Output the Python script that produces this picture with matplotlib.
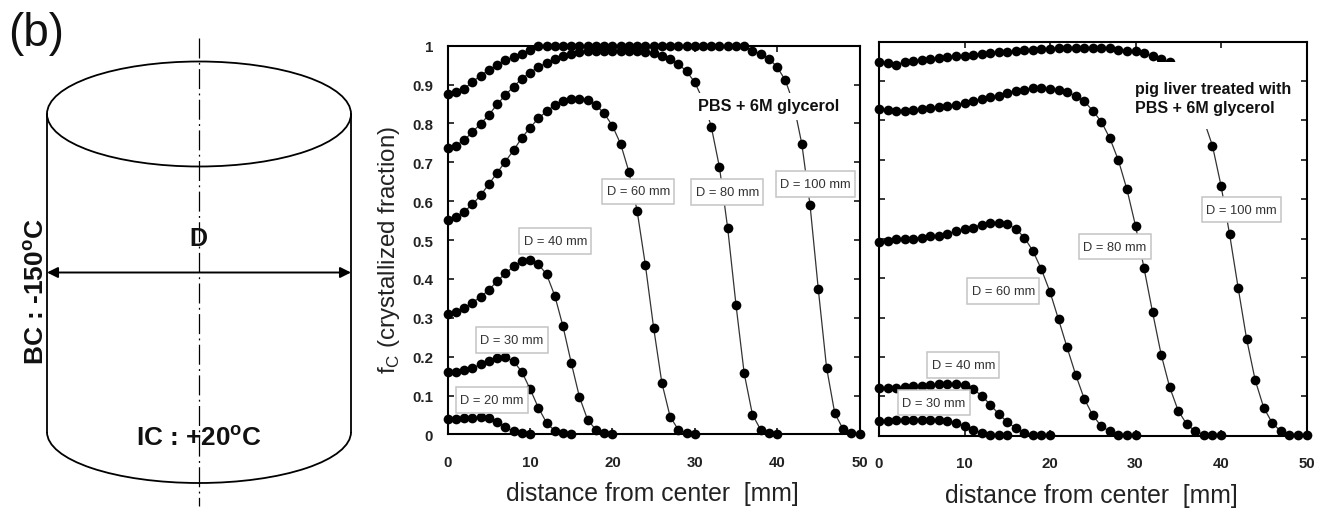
import matplotlib
matplotlib.use("Agg")
import matplotlib.pyplot as plt
from matplotlib.patches import Arc, Ellipse, Rectangle

plt.rcParams['font.family'] = ['Liberation Sans', 'DejaVu Sans']
plt.rcParams['mathtext.fontset'] = 'custom'
plt.rcParams['mathtext.rm'] = 'Liberation Sans'
plt.rcParams['mathtext.bf'] = 'Liberation Sans:bold'

# left panel, PBS + 6M glycerol (one value per mm from x = 0)
pbs_20 = [.040, .040, .042, .042, .044, .042, .033, .018, .008, .003, 0]
pbs_30 = [.160, .160, .166, .171, .180, .188, .196, .198, .188, .161, .117, .069, .030, .009, .003, 0]
pbs_40 = [.311, .316, .325, .339, .354, .372, .394, .414, .432, .446, .449, .438, .412, .357, .278,
          .184, .096, .037, .012, .003, 0]
pbs_60 = [.552, .560, .573, .592, .615, .644, .673, .702, .731, .763, .789, .813, .831, .847, .858,
          .863, .863, .861, .847, .826, .794, .747, .676, .575, .436, .275, .133, .046, .012, .003, 0]
pbs_80 = [.737, .743, .757, .778, .799, .822, .849, .873, .895, .915, .931, .945, .956, .966, .973,
          .978, .984, .987, .987, .987, .987, .987, .987, .986, .985, .981, .973, .965, .953, .934,
          .906, .860, .792, .687, .530, .334, .157, .051, .012, .003, 0]
pbs_100 = [.876, .880, .889, .907, .923, .938, .950, .963, .970, .978, .989, 1, 1, 1, 1, 1, 1, 1, 1,
           1, 1, 1, 1, 1, 1, 1, 1, 1, 1, 1, 1, 1, 1, 1, 1, 1, 1, .987, .979, .967, .945, .911, .850,
           .747, .589, .373, .172, .054, .014, .003, 0]

# right panel, pig liver
pig_30 = [.038, .038, .040, .040, .040, .041, .041, .041, .037, .032, .024, .014, .008, .003, .001, .001]
pig_40 = [.121, .121, .121, .124, .126, .127, .128, .131, .131, .131, .129, .118, .102, .079, .055,
          .035, .019, .008, .003, .001, .001]
pig_60 = [.492, .495, .498, .499, .500, .503, .506, .508, .513, .519, .524, .528, .536, .539, .539,
          .537, .525, .503, .469, .422, .365, .295, .224, .155, .094, .052, .024, .011, .003, .003, .001]
pig_80 = [.828, .827, .823, .823, .826, .828, .831, .833, .837, .839, .844, .849, .855, .860, .863,
          .871, .876, .878, .883, .883, .880, .877, .873, .862, .849, .825, .797, .755, .699, .625,
          .533, .425, .313, .206, .123, .063, .029, .011, .003, .003, .001]
pig_100 = [.948, .945, .942, .948, .951, .953, .956, .959, .961, .964, .964, .967, .970, .971, .974,
           .975, .976, .980, .980, .981, .981, .984, .984, .984, .984, .984, .984, .984, .980, .977,
           .977, .971, .963, .955, .948, .935, .910, .870, .800, .736, .635, .512, .376, .245, .141,
           .071, .032, .011, .003, .003, .001]

y_ticks = [0, .1, .2, .3, .4, .5, .6, .7, .8, .9, 1]
y_tick_labels = ['0', '0.1', '0.2', '0.3', '0.4', '0.5', '0.6', '0.7', '0.8', '0.9', '1']
x_ticks = [0, 10, 20, 30, 40, 50]

W, H = 1329, 510


def px_axes(left, right, top, bottom):
    return fig.add_axes([left / W, 1 - bottom / H, (right - left) / W, (bottom - top) / H])


def curve(ax, vals):
    xs = list(range(len(vals)))
    ax.plot(xs, vals, color='#333333', lw=0.9, marker='o', ms=7, mfc='black', mec='black',
            mew=0, clip_on=False, zorder=3)


def label(ax, x, y, s, wpx=72):
    # box size is given in pixels, turned into data units of this panel
    pos = ax.get_position()
    dx = wpx / (pos.width * W) * 50
    dy = 25.5 / (pos.height * H)
    ax.add_patch(Rectangle((x - dx / 2, y - dy / 2), dx, dy, fc='white', ec='#c4c4c4', lw=1.1, zorder=5))
    ax.text(x, y, s, ha='center', va='center', fontsize=9.3, color='#333333', zorder=6)


def style(ax, xlab_x, xlab_y):
    ax.set_xlim(0, 50)
    ax.set_ylim(0, 1)
    ax.set_xticks(x_ticks)
    ax.set_yticks(y_ticks)
    ax.tick_params(direction='in', top=True, right=True, length=4, width=1.1)
    ax.tick_params(axis='x', pad=14.5)
    ax.tick_params(axis='y', pad=10.5)
    ax.set_xticklabels([str(t) for t in x_ticks], fontweight='bold', fontsize=10.8, color='#222222')
    for s in ax.spines.values():
        s.set_linewidth(1.5)
    ax.set_xlabel('distance from center  [mm]', fontsize=17.8, va='center', color='#222222')
    ax.xaxis.set_label_coords(xlab_x, xlab_y)


fig = plt.figure(figsize=(W / 100, H / 100), dpi=100)

# cylinder sketch, drawn in pixel coordinates
bg = fig.add_axes([0, 0, 1, 1])
bg.set_xlim(0, W)
bg.set_ylim(H, 0)
bg.axis('off')
bg.add_patch(Ellipse((199, 115), 304, 105, fc='none', ec='black', lw=1.3))
bg.add_patch(Arc((199, 433), 304, 102, theta1=0, theta2=180, ec='black', lw=1.3))
bg.plot([47, 47], [115, 433], color='black', lw=1.3)
bg.plot([351, 351], [115, 433], color='black', lw=1.3)
bg.plot([199, 199], [39, 507], color='black', lw=0.9, dashes=(16, 3.5, 1.5, 3.5))
bg.annotate('', xy=(47, 273.5), xytext=(351, 273.5),
            arrowprops=dict(arrowstyle='<|-|>', color='black', lw=1.4, shrinkA=0, shrinkB=0, mutation_scale=16))
bg.text(8, 34, '(b)', fontsize=33, ha='left', va='center', color='#111111')
bg.text(198, 239, 'D', fontsize=18, fontweight='bold', ha='center', va='center', color='#111111')
bg.text(199, 438, r'IC : +20$^{\mathbf{o}}$C', fontsize=18.8, fontweight='bold', ha='center', va='center',
        color='#111111')
bg.text(36, 291.5, r'BC : -150$^{\mathbf{o}}$C', fontsize=19, fontweight='bold', ha='center', va='center',
        rotation=90, color='#111111')

# left panel
ax1 = px_axes(447.7, 859.5, 46.7, 435.4)
for vals in [pbs_20, pbs_30, pbs_40, pbs_60, pbs_80, pbs_100]:
    curve(ax1, vals)
style(ax1, .498, -.151)
ax1.set_yticklabels(y_tick_labels, fontweight='bold', fontsize=10.8, color='#222222')
ax1.set_ylabel(r'f$_{\mathregular{C}}$ (crystallized fraction)', fontsize=17.4, va='center', color='#222222')
ax1.yaxis.set_label_coords(-.143, .478)
label(ax1, 5.4, .088, 'D = 20 mm')
label(ax1, 7.8, .243, 'D = 30 mm')
label(ax1, 13.06, .497, 'D = 40 mm')
label(ax1, 23.15, .625, 'D = 60 mm')
label(ax1, 33.93, .623, 'D = 80 mm')
label(ax1, 44.67, .644, 'D = 100 mm', wpx=79)
ax1.add_patch(Rectangle((29.9, .81), 18.2, .068, fc='white', ec='none', zorder=5))
ax1.text(38.93, .845, 'PBS + 6M glycerol', fontsize=11.7, fontweight='bold', color='#111111',
         ha='center', va='center', zorder=6)

# right panel
ax2 = px_axes(879, 1306.5, 42.7, 436.7)
for vals in [pig_30, pig_40, pig_60, pig_80, pig_100]:
    curve(ax2, vals)
style(ax2, .496, -.15)
ax2.set_yticklabels([])
label(ax2, 6.38, .0838, 'D = 30 mm')
label(ax2, 9.86, .18, 'D = 40 mm')
label(ax2, 14.54, .367, 'D = 60 mm')
label(ax2, 27.58, .48, 'D = 80 mm')
label(ax2, 42.4, .574, 'D = 100 mm', wpx=79)
ax2.add_patch(Rectangle((29.6, .778), 19.2, .17, fc='white', ec='none', zorder=5))
ax2.text(29.95, .857, 'pig liver treated with\nPBS + 6M glycerol', fontsize=11.5, fontweight='bold',
         color='#111111', ha='left', va='center', linespacing=1.29, zorder=6)

fig.savefig('out.png', dpi=100)
